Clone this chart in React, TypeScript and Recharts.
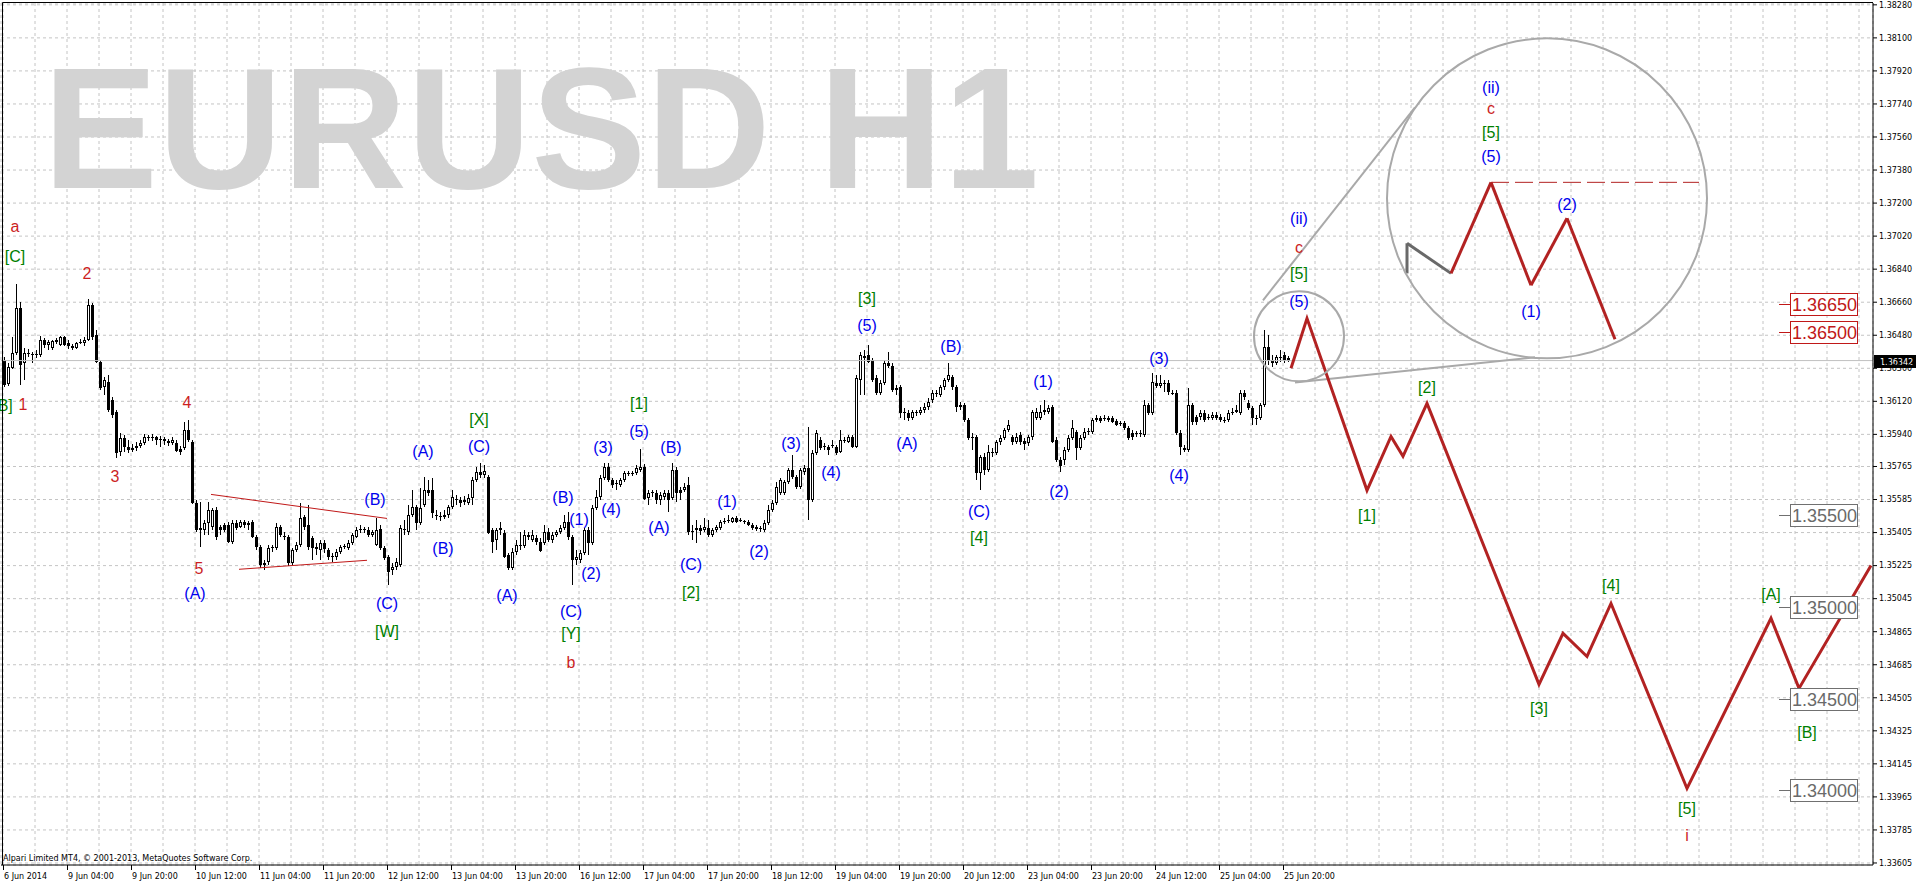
import React from 'react';
import {
  Bar,
  CartesianGrid,
  ComposedChart,
  Line,
  ReferenceDot,
  ReferenceLine,
  XAxis,
  YAxis,
} from 'recharts';

// prices are stored as points above 1.30000 (1 point = 0.00001)
const BASE = 1.3;
const PT = 0.00001;
const px = (p: number) => +(BASE + p * PT).toFixed(5);

const opens = [
  6343, 6212, 6300, 6382, 6626, 6327, 6376, 6376, 6371, 6371,
  6452, 6425, 6409, 6441, 6425, 6468, 6436, 6420, 6409, 6436,
  6436, 6452, 6643, 6480, 6332, 6196, 6223, 6125, 6060, 5842,
  5918, 5869, 5853, 5864, 5874, 5891, 5923, 5918, 5923, 5907,
  5913, 5902, 5891, 5891, 5858, 5864, 5962, 5896, 5565, 5428,
  5417, 5456, 5434, 5526, 5434, 5445, 5445, 5352, 5456, 5434,
  5461, 5445, 5461, 5379, 5325, 5238, 5243, 5319, 5319, 5434,
  5385, 5379, 5238, 5308, 5336, 5488, 5445, 5374, 5325, 5308,
  5347, 5308, 5276, 5270, 5297, 5325, 5319, 5347, 5379, 5417,
  5423, 5417, 5390, 5336, 5423, 5319, 5270, 5199, 5216, 5227,
  5423, 5406, 5499, 5543, 5456, 5554, 5635, 5635, 5499, 5494,
  5488, 5499, 5543, 5586, 5581, 5570, 5565, 5592, 5690, 5733,
  5717, 5706, 5417, 5363, 5417, 5401, 5281, 5210, 5297, 5336,
  5330, 5390, 5363, 5374, 5352, 5347, 5406, 5363, 5390, 5406,
  5428, 5461, 5379, 5254, 5254, 5292, 5417, 5347, 5537, 5597,
  5701, 5760, 5690, 5668, 5662, 5690, 5722, 5728, 5728, 5744,
  5760, 5592, 5624, 5619, 5581, 5597, 5619, 5592, 5744, 5635,
  5635, 5662, 5412, 5417, 5428, 5417, 5428, 5390, 5417, 5428,
  5461, 5467, 5461, 5483, 5472, 5467, 5461, 5445, 5434, 5423,
  5417, 5456, 5526, 5565, 5619, 5619, 5679, 5744, 5706, 5651,
  5733, 5755, 5581, 5837, 5907, 5869, 5869, 5874, 5869, 5842,
  5902, 5896, 5923, 5869, 6234, 6365, 6371, 6343, 6245, 6163,
  6218, 6327, 6311, 6191, 6196, 6060, 6055, 6027, 6060, 6055,
  6071, 6087, 6125, 6158, 6153, 6196, 6234, 6251, 6196, 6098,
  6098, 6016, 5923, 5923, 5728, 5815, 5744, 5842, 5837, 5896,
  5918, 5962, 5923, 5896, 5934, 5902, 5891, 5923, 6027, 6027,
  6060, 6060, 6087, 5907, 5798, 5798, 5853, 5918, 5951, 5864,
  5918, 5951, 5951, 6016, 6027, 6022, 6027, 6027, 6011, 6000,
  6000, 5973, 5945, 5945, 5940, 5934, 6098, 6055, 6218, 6201,
  6218, 6218, 6163, 6163, 5945, 5864, 5853, 6098, 6033, 6033,
  6055, 6033, 6027, 6044, 6033, 6016, 6016, 6055, 6060, 6055,
  6163, 6109, 6082, 6027, 6027, 6098, 6414, 6343, 6327, 6360,
  6371, 6354,
];

const highs = [
  6360, 6327, 6469, 6757, 6659, 6409, 6403, 6387, 6398, 6474,
  6463, 6452, 6452, 6463, 6474, 6474, 6452, 6430, 6441, 6458,
  6468, 6676, 6654, 6507, 6343, 6251, 6261, 6141, 6071, 5945,
  5934, 5907, 5885, 5896, 5907, 5940, 5934, 5940, 5929, 5929,
  5923, 5913, 5923, 5907, 5874, 6005, 6016, 5907, 5581, 5570,
  5472, 5570, 5537, 5543, 5445, 5456, 5461, 5472, 5472, 5472,
  5472, 5467, 5472, 5390, 5336, 5254, 5336, 5336, 5456, 5445,
  5406, 5390, 5319, 5352, 5565, 5499, 5554, 5385, 5347, 5363,
  5363, 5319, 5292, 5314, 5336, 5341, 5363, 5401, 5434, 5445,
  5434, 5434, 5417, 5483, 5445, 5330, 5281, 5238, 5265, 5445,
  5472, 5554, 5635, 5554, 5646, 5706, 5690, 5701, 5526, 5515,
  5526, 5554, 5635, 5608, 5597, 5603, 5614, 5706, 5760, 5782,
  5771, 5717, 5428, 5428, 5461, 5417, 5292, 5319, 5363, 5406,
  5417, 5406, 5417, 5390, 5374, 5445, 5428, 5406, 5417, 5445,
  5499, 5515, 5390, 5308, 5308, 5428, 5434, 5554, 5635, 5717,
  5782, 5782, 5701, 5690, 5701, 5739, 5739, 5739, 5771, 5858,
  5777, 5635, 5635, 5635, 5624, 5635, 5635, 5782, 5760, 5651,
  5673, 5706, 5445, 5472, 5445, 5483, 5472, 5428, 5445, 5472,
  5483, 5499, 5488, 5494, 5483, 5472, 5472, 5456, 5445, 5439,
  5472, 5554, 5581, 5679, 5701, 5690, 5755, 5826, 5717, 5755,
  5771, 5978, 5853, 5962, 5923, 5891, 5880, 5907, 5880, 5962,
  5923, 5934, 5934, 6261, 6387, 6398, 6425, 6354, 6261, 6234,
  6343, 6387, 6327, 6207, 6207, 6082, 6071, 6071, 6071, 6087,
  6109, 6136, 6180, 6180, 6207, 6245, 6327, 6261, 6207, 6114,
  6109, 6027, 5945, 5934, 5826, 5837, 5880, 5864, 5907, 5934,
  5973, 6016, 5934, 5945, 5951, 5918, 5934, 6071, 6082, 6098,
  6125, 6098, 6098, 5923, 5815, 5869, 5934, 6016, 5962, 5934,
  5973, 5973, 6027, 6044, 6038, 6044, 6038, 6038, 6022, 6011,
  6011, 5984, 5962, 5956, 5962, 6125, 6109, 6272, 6261, 6261,
  6234, 6234, 6180, 6180, 5962, 5880, 6191, 6109, 6044, 6071,
  6071, 6049, 6060, 6060, 6049, 6033, 6071, 6082, 6098, 6180,
  6180, 6125, 6093, 6044, 6109, 6507, 6480, 6371, 6371, 6398,
  6387, 6365,
];

const lows = [
  6196, 6201, 6294, 6371, 6207, 6234, 6360, 6327, 6354, 6360,
  6409, 6398, 6398, 6430, 6420, 6420, 6403, 6398, 6403, 6430,
  6420, 6447, 6452, 6327, 6180, 6153, 6060, 6027, 5809, 5820,
  5842, 5837, 5842, 5847, 5864, 5880, 5902, 5902, 5880, 5869,
  5880, 5874, 5880, 5842, 5825, 5853, 5896, 5559, 5406, 5325,
  5390, 5390, 5417, 5363, 5390, 5406, 5347, 5341, 5417, 5428,
  5428, 5417, 5374, 5308, 5210, 5199, 5227, 5297, 5308, 5379,
  5363, 5221, 5227, 5297, 5325, 5417, 5308, 5254, 5281, 5254,
  5292, 5254, 5243, 5254, 5287, 5314, 5308, 5336, 5374, 5401,
  5401, 5379, 5379, 5330, 5308, 5254, 5118, 5172, 5199, 5216,
  5390, 5390, 5488, 5417, 5445, 5543, 5603, 5483, 5472, 5467,
  5477, 5483, 5532, 5554, 5543, 5554, 5554, 5554, 5679, 5701,
  5701, 5396, 5292, 5308, 5390, 5265, 5199, 5199, 5281, 5308,
  5319, 5363, 5352, 5336, 5297, 5336, 5352, 5347, 5379, 5395,
  5417, 5363, 5118, 5227, 5238, 5281, 5281, 5336, 5526, 5581,
  5690, 5679, 5646, 5635, 5651, 5679, 5711, 5711, 5717, 5733,
  5581, 5554, 5597, 5559, 5554, 5581, 5515, 5581, 5570, 5581,
  5624, 5390, 5363, 5347, 5390, 5406, 5379, 5379, 5406, 5417,
  5450, 5456, 5456, 5456, 5461, 5450, 5439, 5417, 5412, 5406,
  5406, 5445, 5515, 5554, 5608, 5608, 5668, 5695, 5641, 5641,
  5717, 5472, 5570, 5826, 5853, 5853, 5826, 5864, 5826, 5837,
  5891, 5891, 5864, 5864, 6153, 6153, 6327, 6223, 6153, 6153,
  6207, 6300, 6169, 6153, 6027, 6016, 6011, 6016, 6038, 6044,
  6055, 6071, 6109, 6141, 6141, 6180, 6223, 6180, 6060, 6071,
  6005, 5907, 5853, 5690, 5635, 5717, 5733, 5815, 5826, 5880,
  5907, 5951, 5880, 5885, 5880, 5853, 5874, 5907, 6016, 6016,
  6044, 6049, 5891, 5787, 5733, 5771, 5842, 5907, 5798, 5853,
  5907, 5934, 5940, 6005, 6000, 6011, 6005, 6000, 5984, 5984,
  5962, 5907, 5907, 5923, 5923, 5923, 6044, 6044, 6191, 6191,
  6169, 6153, 6153, 5934, 5826, 5842, 5842, 5989, 5989, 6016,
  6005, 6016, 6016, 6016, 6005, 6000, 6005, 6044, 6055, 6044,
  6125, 6071, 5989, 5989, 6016, 6087, 6316, 6305, 6316, 6332,
  6327, 6332,
];

const closes = [
  6207, 6305, 6382, 6627, 6316, 6382, 6382, 6371, 6376, 6452,
  6425, 6441, 6447, 6452, 6468, 6425, 6420, 6409, 6436, 6441,
  6452, 6643, 6468, 6332, 6191, 6234, 6071, 6044, 5836, 5918,
  5869, 5853, 5864, 5874, 5891, 5923, 5918, 5923, 5907, 5913,
  5902, 5891, 5907, 5847, 5842, 5962, 5907, 5564, 5417, 5417,
  5456, 5526, 5526, 5379, 5417, 5417, 5352, 5456, 5428, 5461,
  5445, 5456, 5379, 5325, 5227, 5227, 5319, 5325, 5434, 5390,
  5379, 5238, 5308, 5336, 5483, 5434, 5325, 5319, 5314, 5347,
  5314, 5270, 5270, 5297, 5325, 5330, 5347, 5390, 5417, 5423,
  5417, 5390, 5406, 5417, 5319, 5265, 5188, 5216, 5243, 5428,
  5417, 5499, 5543, 5456, 5537, 5635, 5619, 5510, 5494, 5488,
  5499, 5543, 5597, 5581, 5565, 5581, 5592, 5690, 5733, 5717,
  5739, 5401, 5352, 5417, 5428, 5270, 5210, 5297, 5336, 5330,
  5390, 5379, 5390, 5352, 5303, 5406, 5363, 5390, 5406, 5428,
  5461, 5379, 5254, 5270, 5292, 5417, 5347, 5537, 5597, 5701,
  5760, 5690, 5662, 5673, 5690, 5728, 5728, 5722, 5755, 5760,
  5586, 5619, 5619, 5581, 5608, 5619, 5581, 5744, 5619, 5619,
  5651, 5406, 5406, 5428, 5412, 5434, 5390, 5417, 5434, 5461,
  5467, 5472, 5483, 5461, 5471, 5461, 5445, 5428, 5423, 5428,
  5456, 5526, 5565, 5651, 5690, 5679, 5744, 5706, 5651, 5744,
  5755, 5581, 5837, 5945, 5864, 5874, 5853, 5880, 5837, 5907,
  5907, 5923, 5869, 6245, 6371, 6354, 6332, 6234, 6163, 6218,
  6327, 6311, 6180, 6180, 6055, 6055, 6027, 6060, 6055, 6071,
  6087, 6114, 6163, 6163, 6196, 6234, 6261, 6196, 6087, 6087,
  6016, 5918, 5918, 5728, 5815, 5744, 5842, 5837, 5896, 5918,
  5962, 5989, 5896, 5923, 5896, 5885, 5923, 6060, 6060, 6060,
  6071, 6082, 5896, 5798, 5766, 5853, 5918, 5973, 5864, 5918,
  5951, 5956, 6016, 6027, 6011, 6027, 6016, 6005, 5989, 5994,
  5973, 5918, 5923, 5940, 5945, 6098, 6055, 6223, 6201, 6218,
  6212, 6169, 6162, 5945, 5869, 5853, 6098, 6005, 6005, 6055,
  6016, 6032, 6044, 6027, 6016, 6015, 6055, 6060, 6071, 6163,
  6141, 6082, 6027, 6026, 6098, 6414, 6343, 6327, 6360, 6359,
  6343, 6342,
];

const timeLabels = [
  '6 Jun 2014', '9 Jun 04:00', '9 Jun 20:00', '10 Jun 12:00', '11 Jun 04:00',
  '11 Jun 20:00', '12 Jun 12:00', '13 Jun 04:00', '13 Jun 20:00', '16 Jun 12:00',
  '17 Jun 04:00', '17 Jun 20:00', '18 Jun 12:00', '19 Jun 04:00', '19 Jun 20:00',
  '20 Jun 12:00', '23 Jun 04:00', '23 Jun 20:00', '24 Jun 12:00', '25 Jun 04:00',
  '25 Jun 20:00',
];
const LABEL_STEP = 16; // bars between time labels
const SLOTS = 468; // bar slots across the window, incl. empty future

const priceTicks = [
  1.3828, 1.381, 1.3792, 1.3774, 1.3756, 1.3738, 1.372, 1.3702, 1.3684,
  1.3666, 1.3648, 1.363, 1.3612, 1.3594, 1.35765, 1.35585, 1.35405, 1.35225,
  1.35045, 1.34865, 1.34685, 1.34505, 1.34325, 1.34145, 1.33965, 1.33785,
  1.33605,
];
const lastPrice = 1.36342;

// projected wave path (bar index, points)
const forecastBars = [322, 326, 341, 347, 350, 356, 384, 390, 396, 402, 421, 442, 449, 467];
const forecastPts = [6300, 6572, 5635, 5929, 5820, 6109, 4578, 4856, 4730, 5019, 4011, 4938, 4556, 5226];

// magnified sketch inside the big circle
const insetGrey = [[351, 6817], [351, 6981], [362, 6817]];
const insetRed = [[362, 6817], [372, 7313], [382, 6752], [391, 7117], [403, 6458]];
const insetLevel = [[372, 7313], [424, 7313]];

const triangleLines = [
  [[52, 5613], [96, 5482]],
  [[59, 5205], [91, 5254]],
];

const circles = [[324, 6474, 45], [386, 7226, 160]]; // bar, points, radius px
const circleRays = [
  [[315, 6670], [353, 7722]],
  [[323, 6223], [383, 6360]],
];

const blueLabels: [string, number, number][] = [
  ['(A)', 48, 5074], ['(B)', 93, 5586], ['(C)', 96, 5019], ['(A)', 105, 5848],
  ['(B)', 110, 5319], ['(C)', 119, 5875], ['(A)', 126, 5063], ['(B)', 140, 5597],
  ['(1)', 144, 5477], ['(2)', 147, 5183], ['(C)', 142, 4976], ['(3)', 150, 5869],
  ['(4)', 152, 5531], ['(5)', 159, 5956], ['(B)', 167, 5869], ['(A)', 164, 5433],
  ['(C)', 172, 5232], ['(1)', 181, 5575], ['(2)', 189, 5303], ['(3)', 197, 5891],
  ['(4)', 207, 5733], ['(5)', 216, 6534], ['(A)', 226, 5891], ['(B)', 237, 6420],
  ['(C)', 244, 5521], ['(1)', 260, 6229], ['(2)', 264, 5630], ['(3)', 289, 6354],
  ['(4)', 294, 5717], ['(5)', 324, 6665], ['(ii)', 324, 7117], ['(ii)', 372, 7831],
  ['(5)', 372, 7455], ['(2)', 391, 7193], ['(1)', 382, 6610],
];
const greenLabels: [string, number, number][] = [
  ['[C]', 3, 6910], ['[B]', 0, 6098], ['[W]', 96, 4867], ['[X]', 119, 6022],
  ['[Y]', 142, 4856], ['[1]', 159, 6109], ['[2]', 172, 5079], ['[3]', 216, 6681],
  ['[4]', 244, 5379], ['[5]', 324, 6817], ['[5]', 372, 7586], ['[1]', 341, 5499],
  ['[2]', 356, 6196], ['[3]', 384, 4447], ['[4]', 402, 5117], ['[5]', 421, 3902],
  ['[A]', 442, 5068], ['[B]', 451, 4316],
];
const redLabels: [string, number, number][] = [
  ['a', 3, 7074], ['2', 21, 6817], ['1', 5, 6104], ['3', 28, 5711],
  ['4', 46, 6114], ['5', 49, 5210], ['b', 142, 4698], ['c', 324, 6959],
  ['c', 372, 7717], ['i', 421, 3755],
];

const levelBar = 444;
const redLevels = [1.3665, 1.365];
const greyLevels = [1.355, 1.35, 1.345, 1.34];

const BLUE = '#0000ee';
const GREEN = '#008000';
const RED = '#cc1f1f';
const PATH = '#b22222';
const RING = '#a9a9a9';
const AXIS_FONT = 'DejaVu Sans, Verdana, sans-serif';
const LABEL_FONT = 'Liberation Sans, Arial, sans-serif';

const rows = Array.from({ length: SLOTS }, (_, i) => {
  const row: any = { i };
  if (i < closes.length) {
    row.o = px(opens[i]);
    row.h = px(highs[i]);
    row.l = px(lows[i]);
    row.c = px(closes[i]);
    row.range = [row.l, row.h];
  }
  return row;
});
forecastBars.forEach((b, k) => {
  rows[b].fc = px(forecastPts[k]);
});

const Candle = (props: any) => {
  const { x, y, width, height, payload } = props;
  if (!payload || payload.h == null) return null;
  const top = Math.min(y, y + height);
  const bot = Math.max(y, y + height);
  const k = (bot - top) / (payload.h - payload.l || 1e-9);
  const yO = top + (payload.h - payload.o) * k;
  const yC = top + (payload.h - payload.c) * k;
  const cx = Math.round(x + width / 2);
  const bTop = Math.round(Math.min(yO, yC));
  const bBot = Math.max(Math.round(Math.max(yO, yC)), bTop + 1);
  const bull = payload.c > payload.o;
  return (
    <g>
      <line x1={cx + 0.5} x2={cx + 0.5} y1={Math.round(top)} y2={Math.round(bot)} stroke="#000" />
      {bull && bBot - bTop >= 2 ? (
        <rect x={cx - 0.5} y={bTop + 0.5} width={2} height={bBot - bTop - 1} fill="#fff" stroke="#000" />
      ) : (
        <rect x={cx - 1} y={bTop} width={3} height={bBot - bTop} fill="#000" />
      )}
    </g>
  );
};

const TimeTick = (props: any) => {
  const { x, y, payload } = props;
  const v = payload.value;
  const idx = v / LABEL_STEP;
  if (v % LABEL_STEP !== 0 || idx >= timeLabels.length) return null;
  const axisY = y - 5;
  return (
    <g>
      <line x1={x + 0.5} x2={x + 0.5} y1={axisY} y2={axisY + 5} stroke="#000" />
      <text x={x + 1} y={axisY + 14} fontSize={8} fontFamily={AXIS_FONT} fill="#000">
        {timeLabels[idx]}
      </text>
    </g>
  );
};

const textShape = (text: string, color: string) => (props: any) => (
  <text
    x={props.cx}
    y={props.cy}
    fill={color}
    fontSize={16}
    fontFamily={LABEL_FONT}
    textAnchor="middle"
    dominantBaseline="central"
  >
    {text}
  </text>
);

const levelShape = (text: string, color: string, textColor: string) => (props: any) => {
  const cx = Math.round(props.cx);
  const cy = Math.round(props.cy);
  return (
    <g>
      <line x1={cx} x2={cx + 11} y1={cy + 0.5} y2={cy + 0.5} stroke={color} />
      <rect x={cx + 11.5} y={cy - 10.5} width={67} height={22} fill="#fff" stroke={color} />
      <text x={cx + 13} y={cy + 7} fontSize={18} fontFamily={LABEL_FONT} fill={textColor}>
        {text}
      </text>
    </g>
  );
};

const PriceTag = (props: any) => {
  const vb = props.viewBox || {};
  const x = vb.x + vb.width + 1;
  const y = Math.round(vb.y);
  return (
    <g>
      <rect x={x} y={y - 6} width={44} height={13} fill="#000" />
      <text x={x + 6} y={y + 4} fontSize={8} fontFamily={AXIS_FONT} fill="#fff">
        {lastPrice.toFixed(5)}
      </text>
    </g>
  );
};

const seg = (pts: number[][]) =>
  pts.slice(1).map((p, k) => [
    { x: pts[k][0], y: px(pts[k][1]) },
    { x: p[0], y: px(p[1]) },
  ]);

export default function App() {
  const labels = [
    ...blueLabels.map((l) => [...l, BLUE] as const),
    ...greenLabels.map((l) => [...l, GREEN] as const),
    ...redLabels.map((l) => [...l, RED] as const),
  ];
  return (
    <div style={{ position: 'fixed', left: 0, top: 0, width: 1916, height: 884, background: '#fff' }}>
      <ComposedChart
        width={1916}
        height={884}
        data={rows}
        margin={{ top: 3, right: 0, bottom: 0, left: 1 }}
      >
        <CartesianGrid stroke="#c4c4c4" strokeDasharray="3 3" />
        <XAxis
          dataKey="i"
          type="category"
          interval={7}
          height={19}
          tickSize={5}
          tickMargin={0}
          tickLine={false}
          axisLine={{ stroke: '#000' }}
          tick={<TimeTick />}
        />
        <YAxis
          orientation="right"
          type="number"
          domain={[1.33594, 1.3829]}
          allowDataOverflow
          ticks={priceTicks}
          interval={0}
          width={43}
          tickSize={4}
          tickMargin={2}
          axisLine={{ stroke: '#000' }}
          tickLine={{ stroke: '#000' }}
          tick={{ fontSize: 8, fontFamily: AXIS_FONT, fill: '#000' }}
          tickFormatter={(v: number) => v.toFixed(5)}
        />
        <ReferenceLine y={lastPrice} stroke="#c0c0c0" label={(p: any) => <PriceTag {...p} />} />
        {triangleLines.map((pts, k) => (
          <ReferenceLine key={`t${k}`} segment={seg(pts)[0]} stroke="#c01818" strokeWidth={1} />
        ))}
        <Bar dataKey="range" barSize={3} shape={<Candle />} isAnimationActive={false} />
        {circles.map(([b, p, r], k) => (
          <ReferenceDot key={`c${k}`} x={b} y={px(p)} r={r} fill="none" stroke={RING} strokeWidth={2} ifOverflow="visible" />
        ))}
        {circleRays.map((pts, k) => (
          <ReferenceLine key={`r${k}`} segment={seg(pts)[0]} stroke={RING} strokeWidth={2} />
        ))}
        <Line
          dataKey="fc"
          type="linear"
          stroke={PATH}
          strokeWidth={3}
          dot={false}
          connectNulls
          isAnimationActive={false}
        />
        {seg(insetGrey).map((s, k) => (
          <ReferenceLine key={`g${k}`} segment={s} stroke="#696969" strokeWidth={3} />
        ))}
        {seg(insetRed).map((s, k) => (
          <ReferenceLine key={`ir${k}`} segment={s} stroke={PATH} strokeWidth={3} />
        ))}
        <ReferenceLine segment={seg(insetLevel)[0]} stroke={PATH} strokeWidth={1} strokeDasharray="18 6" />
        {labels.map(([t, b, p, color], k) => (
          <ReferenceDot key={`l${k}`} x={b} y={px(p)} r={1} ifOverflow="visible" shape={textShape(t, color)} />
        ))}
        {redLevels.map((v) => (
          <ReferenceDot key={`rl${v}`} x={levelBar} y={v} r={1} ifOverflow="visible" shape={levelShape(v.toFixed(5), '#c01818', '#c01818')} />
        ))}
        {greyLevels.map((v) => (
          <ReferenceDot key={`gl${v}`} x={levelBar} y={v} r={1} ifOverflow="visible" shape={levelShape(v.toFixed(5), '#707070', '#6a6a6a')} />
        ))}
      </ComposedChart>
      <svg
        width={1916}
        height={884}
        style={{ position: 'absolute', left: 0, top: 0, pointerEvents: 'none' }}
      >
        <text
          x={43}
          y={188}
          fontSize={172}
          fontWeight="bold"
          fontFamily={LABEL_FONT}
          fill="#d3d3d3"
          textLength={996}
          lengthAdjust="spacingAndGlyphs"
        >
          EURUSD H1
        </text>
        <line x1={2.5} y1={2.5} x2={1873} y2={2.5} stroke="#000" />
        <line x1={2.5} y1={2.5} x2={2.5} y2={865} stroke="#000" />
        <text x={3} y={861} fontSize={8} fontFamily={AXIS_FONT} fill="#000">
          Alpari Limited MT4, © 2001-2013, MetaQuotes Software Corp.
        </text>
      </svg>
    </div>
  );
}
